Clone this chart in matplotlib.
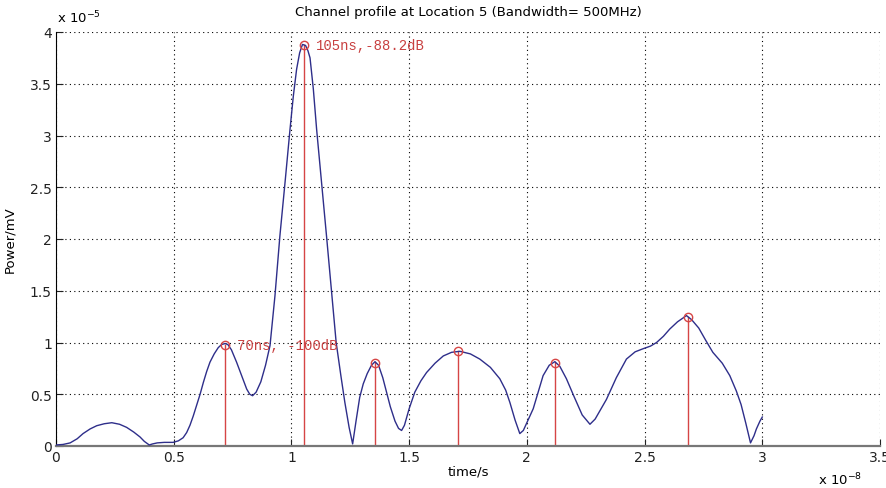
import matplotlib
matplotlib.use('Agg')
import matplotlib.pyplot as plt
from matplotlib.ticker import MultipleLocator, FormatStrFormatter

# time in units of 1e-8 s, power in units of 1e-5 mV
t_e8 = [0.0, 0.03, 0.06, 0.09, 0.115, 0.145, 0.173, 0.205, 0.237, 0.27, 0.30,
        0.33, 0.357, 0.375, 0.396, 0.41, 0.43, 0.46, 0.498, 0.52, 0.54, 0.555,
        0.569, 0.583, 0.597, 0.612, 0.626, 0.64, 0.654, 0.672, 0.689, 0.703,
        0.718, 0.73, 0.745, 0.767, 0.79, 0.81, 0.823, 0.835, 0.85, 0.87, 0.89,
        0.909, 0.93, 0.951, 0.973, 0.994, 1.008, 1.022, 1.035, 1.047, 1.06,
        1.07, 1.079, 1.093, 1.107, 1.128, 1.149, 1.17, 1.19, 1.21, 1.227,
        1.245, 1.26, 1.275, 1.29, 1.305, 1.322, 1.34, 1.355, 1.37, 1.388,
        1.404, 1.42, 1.44, 1.455, 1.468, 1.48, 1.50, 1.524, 1.55, 1.574,
        1.61, 1.645, 1.68, 1.715, 1.76, 1.80, 1.845, 1.885, 1.91, 1.928,
        1.95, 1.97, 1.985, 2.005, 2.027, 2.048, 2.069, 2.095, 2.119, 2.14,
        2.168, 2.20, 2.235, 2.268, 2.29, 2.315, 2.338, 2.38, 2.423, 2.46,
        2.494, 2.525, 2.551, 2.58, 2.607, 2.64, 2.678, 2.70, 2.73, 2.76,
        2.79, 2.83, 2.862, 2.89, 2.91, 2.93, 2.95, 2.965, 2.975, 2.99, 3.0]
power_e5 = [0.01, 0.015, 0.03, 0.07, 0.12, 0.165, 0.196, 0.215, 0.225, 0.21, 0.18,
            0.135, 0.087, 0.045, 0.01, 0.02, 0.03, 0.035, 0.035, 0.05, 0.08, 0.13,
            0.20, 0.29, 0.39, 0.50, 0.615, 0.72, 0.81, 0.89, 0.95, 0.98,
            0.99, 0.98, 0.93, 0.81, 0.67, 0.55, 0.50, 0.486, 0.52, 0.62, 0.78,
            0.97, 1.45, 2.03, 2.55, 3.06, 3.38, 3.64, 3.80, 3.88, 3.87,
            3.82, 3.75, 3.45, 3.06, 2.55, 2.03, 1.50, 1.00, 0.68, 0.42,
            0.18, 0.02, 0.25, 0.47, 0.60, 0.70, 0.78, 0.815, 0.78, 0.66,
            0.52, 0.38, 0.24, 0.17, 0.15, 0.20, 0.36, 0.52, 0.63, 0.71,
            0.80, 0.87, 0.905, 0.915, 0.89, 0.84, 0.76, 0.65, 0.54, 0.42,
            0.25, 0.12, 0.15, 0.25, 0.36, 0.52, 0.68, 0.78, 0.815, 0.77,
            0.65, 0.48, 0.30, 0.21, 0.26, 0.36, 0.45, 0.66, 0.84, 0.91,
            0.94, 0.965, 1.00, 1.06, 1.13, 1.20, 1.26, 1.22, 1.14, 1.02,
            0.905, 0.80, 0.68, 0.53, 0.40, 0.22, 0.03, 0.10, 0.165, 0.24, 0.28]

stem_t = [0.718, 1.053, 1.355, 1.707, 2.119, 2.684]
stem_p = [0.98, 3.87, 0.80, 0.92, 0.80, 1.25]

labels = ['105ns,-88.2dB', '70ns, -100dB']
label_at = [(1.053, 3.87), (0.718, 0.98)]

title = 'Channel profile at Location 5 (Bandwidth= 500MHz)'

fig = plt.figure(figsize=(8.86, 4.89), dpi=100)
ax = fig.add_axes([56 / 886, 42 / 489, 824 / 886, 414 / 489])

ax.plot(t_e8, power_e5, color='#2e2e8a', linewidth=1.0, zorder=3)
for x, y in zip(stem_t, stem_p):
    ax.plot([x, x], [0, y], color='#d64545', linewidth=1.0, zorder=2)
ax.plot(stem_t, stem_p, 'o', mfc='none', mec='#d64545', markersize=6, mew=1.0, zorder=4)

for txt, (x, y) in zip(labels, label_at):
    ax.text(x + 0.05, y, txt, color='#c84040', fontsize=10, family='Liberation Mono',
            va='center', ha='left', zorder=5)

ax.set_xlim(0, 3.5)
ax.set_ylim(0, 4)
ax.xaxis.set_major_locator(MultipleLocator(0.5))
ax.yaxis.set_major_locator(MultipleLocator(0.5))
ax.xaxis.set_major_formatter(FormatStrFormatter('%g'))
ax.yaxis.set_major_formatter(FormatStrFormatter('%g'))
ax.grid(True, color='black', linestyle=(0, (1, 3)), linewidth=0.8)
ax.tick_params(direction='in', length=5, labelsize=10, colors='#222222', pad=3)
ax.spines['top'].set_visible(False)
ax.spines['right'].set_visible(False)
ax.spines['left'].set_color('black')
ax.spines['bottom'].set_color('#777777')
ax.spines['bottom'].set_linewidth(1.6)

ax.set_title(title, fontsize=9.5, pad=12)
ax.set_xlabel('time/s', fontsize=9.5, labelpad=0)
ax.set_ylabel('Power/mV', fontsize=9.5, labelpad=10)

fig.text(57 / 886, 1 - 18 / 489, r'x 10$^{-5}$', fontsize=9.5, va='center', ha='left')
fig.text(818 / 886, 1 - 480 / 489, r'x 10$^{-8}$', fontsize=9.5, va='center', ha='left')

fig.savefig('out.png', dpi=100)
